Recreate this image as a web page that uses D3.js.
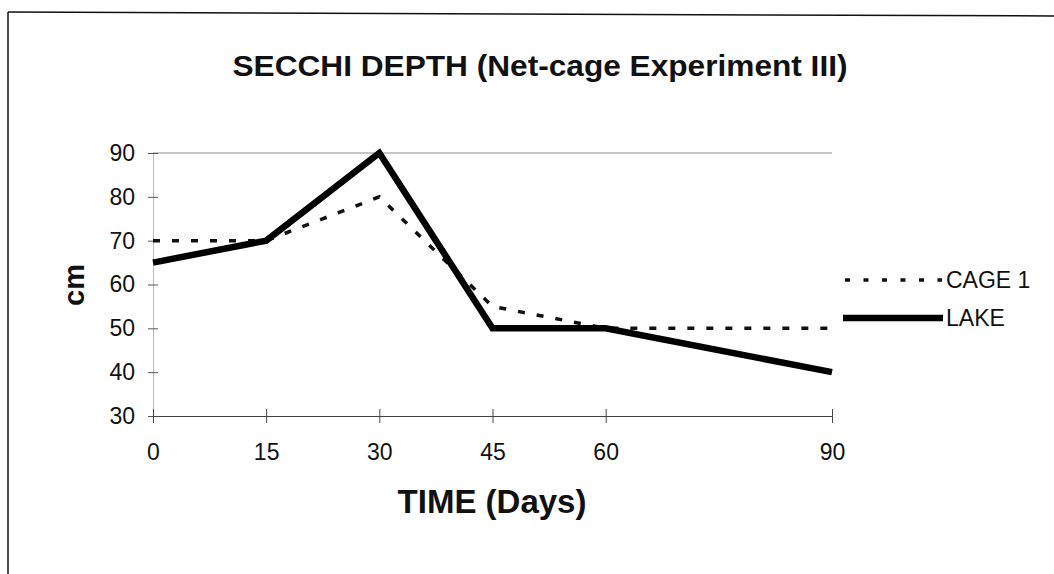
<!DOCTYPE html>
<html>
<head>
<meta charset="utf-8">
<script src="https://cdn.jsdelivr.net/npm/d3@7"></script>
<style>
  html, body { margin: 0; padding: 0; background: #fff; }
  svg { display: block; }
  text { font-family: "Liberation Sans", Arial, Helvetica, sans-serif; fill: #111; }
</style>
</head>
<body>
<svg id="chart" width="1054" height="574"></svg>
<script>
// ---- data ----
const days = [0, 15, 30, 45, 60, 90];
const cage1 = [70, 70, 80, 55, 50, 50];
const lake = [65, 70, 90, 50, 50, 40];
const yTicks = [30, 40, 50, 60, 70, 80, 90];
const xTicks = [0, 15, 30, 45, 60, 90];
const seriesNames = ["CAGE 1", "LAKE"];
const title = "SECCHI DEPTH (Net-cage Experiment III)";
const xTitle = "TIME (Days)";
const yTitle = "cm";

const svg = d3.select("#chart");
const W = 1054, H = 574;

const x = d3.scaleLinear().domain([0, 90]).range([153, 832]);
const y = d3.scaleLinear().domain([30, 90]).range([416, 153]);

// frame (left and top edges)
svg.append("line").attr("x1", 8).attr("y1", 12).attr("x2", 8).attr("y2", H)
  .attr("stroke", "#111").attr("stroke-width", 1.5);
svg.append("line").attr("x1", 8).attr("y1", 12).attr("x2", W).attr("y2", 16)
  .attr("stroke", "#111").attr("stroke-width", 1.5);

// title
svg.append("text").attr("x", 540).attr("y", 76).attr("text-anchor", "middle")
  .attr("font-size", 29).attr("font-weight", "bold")
  .attr("textLength", 615).attr("lengthAdjust", "spacingAndGlyphs")
  .text(title);

// gridline at top value
svg.append("line").attr("x1", x(0)).attr("x2", x(90))
  .attr("y1", y(90)).attr("y2", y(90))
  .attr("stroke", "#888").attr("stroke-width", 1);

// y axis
const yAxis = d3.axisLeft(y).tickValues(yTicks).tickSize(0).tickPadding(18);
const gy = svg.append("g").attr("transform", `translate(${x(0)},0)`).call(yAxis);
gy.select(".domain").attr("stroke", "#bbb");
gy.selectAll(".tick text").attr("font-size", 23).style("font-family", "'Liberation Sans', Arial, sans-serif").attr("fill", "#111");
gy.selectAll(".tick").append("line").attr("x1", -5).attr("x2", 5).attr("stroke", "#555");

// x axis
const xAxis = d3.axisBottom(x).tickValues(xTicks).tickSize(0).tickPadding(28);
const gx = svg.append("g").attr("transform", `translate(0,${y(30)})`).call(xAxis);
gx.select(".domain").attr("stroke", "#444");
gx.selectAll(".tick text").attr("font-size", 23).style("font-family", "'Liberation Sans', Arial, sans-serif").attr("fill", "#111");
gx.selectAll(".tick").append("line").attr("y1", -7).attr("y2", 7).attr("stroke", "#444");

// axis titles
svg.append("text").attr("x", 492).attr("y", 513).attr("text-anchor", "middle")
  .attr("font-size", 33).attr("font-weight", "bold").text(xTitle);
svg.append("text").attr("transform", "translate(84,285) rotate(-90)")
  .attr("text-anchor", "middle").attr("font-size", 29).attr("font-weight", "bold").text(yTitle);

// lines
const line = d3.line().x(d => x(d[0])).y(d => y(d[1]));
const cageData = days.map((d, i) => [d, cage1[i]]);
const lakeData = days.map((d, i) => [d, lake[i]]);

svg.append("path").datum(cageData).attr("d", line)
  .attr("fill", "none").attr("stroke", "#111").attr("stroke-width", 3.5)
  .attr("stroke-dasharray", "7,12").attr("stroke-linejoin", "miter");
svg.append("path").datum(lakeData).attr("d", line)
  .attr("fill", "none").attr("stroke", "#000").attr("stroke-width", 6.5)
  .attr("stroke-linejoin", "miter");

// legend
const legY = [280, 318];
svg.append("line").attr("x1", 845).attr("x2", 942).attr("y1", legY[0]).attr("y2", legY[0])
  .attr("stroke", "#111").attr("stroke-width", 3.5).attr("stroke-dasharray", "5,13.5");
svg.append("line").attr("x1", 843).attr("x2", 943).attr("y1", legY[1]).attr("y2", legY[1])
  .attr("stroke", "#000").attr("stroke-width", 6.5);
seriesNames.forEach((n, i) => {
  svg.append("text").attr("x", 946).attr("y", legY[i]).attr("dy", "0.36em")
    .attr("font-size", 23).text(n);
});
</script>
</body>
</html>
